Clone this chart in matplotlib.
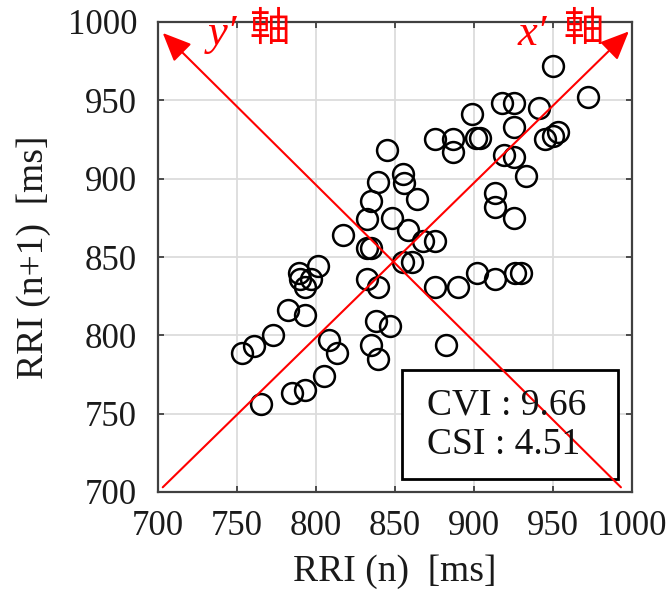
import matplotlib
matplotlib.use('Agg')
from matplotlib import pyplot as plt
from matplotlib.patches import Rectangle

# RRI(n) と RRI(n+1) の組 [ms]
rri_n = [845, 839, 835, 832, 817, 832, 835, 801,
         950, 972, 918, 925, 941, 899, 925, 953,
         875, 887, 901, 904, 945, 950, 887, 919, 925,
         855, 856, 864, 933, 913, 913, 925, 848, 858,
         868, 875, 855, 861,
         789, 790, 797, 793, 832, 839, 782, 793, 773,
         761, 753, 808, 813, 838, 847, 835, 839, 805,
         785, 793, 765,
         875, 890, 902, 913, 926, 930, 882]
rri_n1 = [918, 898, 886, 874, 864, 856, 856, 844,
          972, 952, 948, 948, 945, 941, 933, 930,
          925, 925, 926, 926, 925, 927, 917, 915, 914,
          903, 897, 887, 902, 891, 882, 875, 875, 867,
          860, 860, 847, 847,
          840, 836, 836, 831, 836, 831, 816, 813, 800,
          793, 789, 797, 789, 809, 806, 794, 785, 774,
          763, 765, 756,
          831, 831, 840, 836, 840, 840, 794]

# 回転座標軸 (x' 軸, y' 軸) の始点と終点
x_axis_start, x_axis_end = (703, 703), (998, 994)
y_axis_start, y_axis_end = (993, 703), (703, 993)

cvi = 9.66
csi = 4.51

serif = 'Liberation Serif'
plt.rcParams['font.family'] = serif

fig = plt.figure(figsize=(6.71, 5.91), dpi=100)
ax = fig.add_axes([158 / 671, 1 - 492 / 591, 474 / 671, 470 / 591])

# グリッド
ax.grid(True, color='#dcdcdc', linewidth=1.3, zorder=0)

# 散布図 (白抜きの円)
ax.plot(rri_n, rri_n1, 'o', markersize=15, markerfacecolor='none',
        markeredgecolor='black', markeredgewidth=1.8, zorder=3)

# x' 軸, y' 軸の矢印
for start, end in [(x_axis_start, x_axis_end), (y_axis_start, y_axis_end)]:
    ax.annotate('', xy=end, xytext=start,
                arrowprops=dict(arrowstyle='-|>,head_length=0.8,head_width=0.35',
                                color='red', lw=1.5, mutation_scale=22,
                                shrinkA=0, shrinkB=0), zorder=4)

# 軸ラベル (赤)
ax.text(0.137, 0.975, 'y′', transform=ax.transAxes, color='red',
        fontsize=32, style='italic', ha='center', va='center')
ax.text(0.236, 0.985, '軸', transform=ax.transAxes, color='red',
        fontsize=29, ha='center', va='center', family='Noto Sans CJK JP')
ax.text(0.790, 0.975, 'x′', transform=ax.transAxes, color='red',
        fontsize=32, style='italic', ha='center', va='center')
ax.text(0.897, 0.985, '軸', transform=ax.transAxes, color='red',
        fontsize=29, ha='center', va='center', family='Noto Sans CJK JP')

# CVI / CSI の枠
box = Rectangle((0.515, 0.028), 0.455, 0.232, transform=ax.transAxes,
                facecolor='white', edgecolor='black', linewidth=2, zorder=3)
ax.add_patch(box)
ax.text(0.567, 0.185, f'CVI : {cvi:.2f}', transform=ax.transAxes,
        fontsize=27, ha='left', va='center', color='#111111', zorder=5)
ax.text(0.567, 0.100, f'CSI : {csi:.2f}', transform=ax.transAxes,
        fontsize=27, ha='left', va='center', color='#111111', zorder=5)

# 軸の範囲と目盛り
ax.set_xlim(700, 1000)
ax.set_ylim(700, 1000)
ax.set_xticks(range(700, 1001, 50))
ax.set_yticks(range(700, 1001, 50))
ax.tick_params(direction='in', length=4, width=1.2, top=True, right=True,
               labelsize=25, colors='#333333', labelcolor='#1a1a1a')
ax.tick_params(axis='y', pad=15)
ax.tick_params(axis='x', pad=13)
for sp in ax.spines.values():
    sp.set_color('#404040')
    sp.set_linewidth(1.6)

ax.set_xlabel('RRI (n)  [ms]', fontsize=27, color='#1a1a1a', labelpad=8)
ax.set_ylabel('RRI (n+1)  [ms]', fontsize=27, color='#1a1a1a', labelpad=12)

fig.savefig('out.png', dpi=100)
